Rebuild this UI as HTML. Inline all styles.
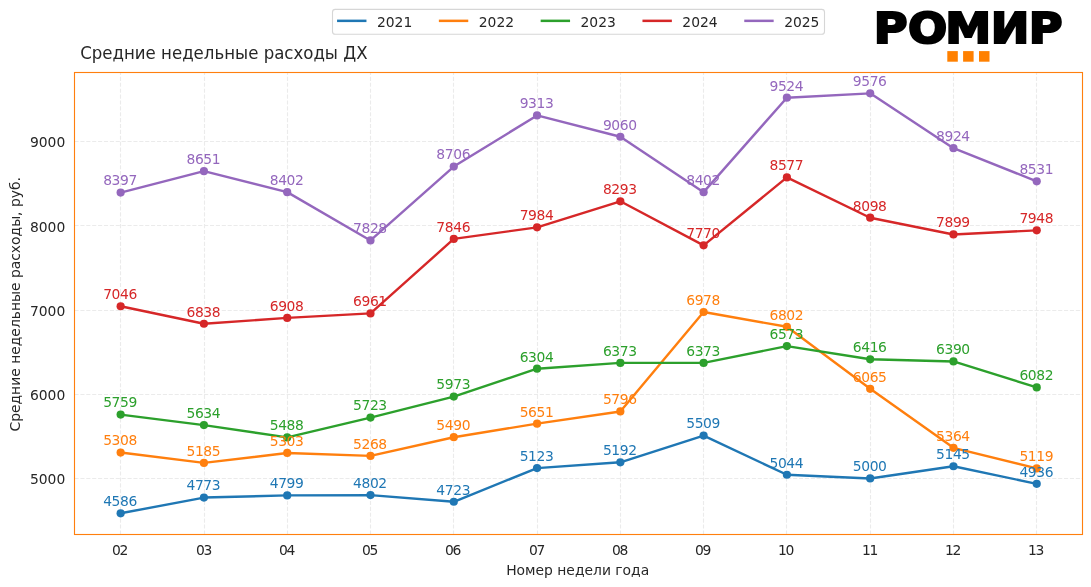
<!DOCTYPE html>
<html lang="ru"><head><meta charset="utf-8"><title>Средние недельные расходы ДХ</title>
<style>html,body{margin:0;padding:0;background:#fff;}body{width:1091px;height:587px;overflow:hidden;}svg{display:block;}text{font-family:"DejaVu Sans","Liberation Sans",sans-serif;}</style></head><body>
<svg width="1091" height="587" viewBox="0 0 1091 587">
<rect width="1091" height="587" fill="#ffffff"/>
<g stroke="#ebebeb" stroke-width="1.11" stroke-dasharray="4.11 1.78" fill="none">
<path d="M120.50 534.50V72.50"/>
<path d="M204.50 534.50V72.50"/>
<path d="M287.50 534.50V72.50"/>
<path d="M370.50 534.50V72.50"/>
<path d="M453.50 534.50V72.50"/>
<path d="M537.50 534.50V72.50"/>
<path d="M620.50 534.50V72.50"/>
<path d="M703.50 534.50V72.50"/>
<path d="M786.50 534.50V72.50"/>
<path d="M870.50 534.50V72.50"/>
<path d="M953.50 534.50V72.50"/>
<path d="M1036.50 534.50V72.50"/>
<path d="M74.50 478.50H1082.50"/>
<path d="M74.50 394.50H1082.50"/>
<path d="M74.50 310.50H1082.50"/>
<path d="M74.50 225.50H1082.50"/>
<path d="M74.50 141.50H1082.50"/>
</g>
<g fill="#1f77b4" stroke="#1f77b4"><polyline points="120.65,513.30 203.93,497.57 287.21,495.38 370.49,495.12 453.77,501.77 537.05,468.11 620.33,462.30 703.61,435.62 786.89,474.76 870.17,478.46 953.45,466.26 1036.73,483.85" fill="none" stroke-width="2.4" stroke-linejoin="round" stroke-linecap="butt"/>
<circle cx="120.65" cy="513.30" r="4.1" stroke="none"/>
<circle cx="203.93" cy="497.57" r="4.1" stroke="none"/>
<circle cx="287.21" cy="495.38" r="4.1" stroke="none"/>
<circle cx="370.49" cy="495.12" r="4.1" stroke="none"/>
<circle cx="453.77" cy="501.77" r="4.1" stroke="none"/>
<circle cx="537.05" cy="468.11" r="4.1" stroke="none"/>
<circle cx="620.33" cy="462.30" r="4.1" stroke="none"/>
<circle cx="703.61" cy="435.62" r="4.1" stroke="none"/>
<circle cx="786.89" cy="474.76" r="4.1" stroke="none"/>
<circle cx="870.17" cy="478.46" r="4.1" stroke="none"/>
<circle cx="953.45" cy="466.26" r="4.1" stroke="none"/>
<circle cx="1036.73" cy="483.85" r="4.1" stroke="none"/>
</g>
<g fill="#ff7f0e" stroke="#ff7f0e"><polyline points="120.65,452.54 203.93,462.89 287.21,452.96 370.49,455.90 453.77,437.22 537.05,423.67 620.33,411.47 703.61,311.99 786.89,326.80 870.17,388.83 953.45,447.82 1036.73,468.44" fill="none" stroke-width="2.4" stroke-linejoin="round" stroke-linecap="butt"/>
<circle cx="120.65" cy="452.54" r="4.1" stroke="none"/>
<circle cx="203.93" cy="462.89" r="4.1" stroke="none"/>
<circle cx="287.21" cy="452.96" r="4.1" stroke="none"/>
<circle cx="370.49" cy="455.90" r="4.1" stroke="none"/>
<circle cx="453.77" cy="437.22" r="4.1" stroke="none"/>
<circle cx="537.05" cy="423.67" r="4.1" stroke="none"/>
<circle cx="620.33" cy="411.47" r="4.1" stroke="none"/>
<circle cx="703.61" cy="311.99" r="4.1" stroke="none"/>
<circle cx="786.89" cy="326.80" r="4.1" stroke="none"/>
<circle cx="870.17" cy="388.83" r="4.1" stroke="none"/>
<circle cx="953.45" cy="447.82" r="4.1" stroke="none"/>
<circle cx="1036.73" cy="468.44" r="4.1" stroke="none"/>
</g>
<g fill="#2ca02c" stroke="#2ca02c"><polyline points="120.65,414.58 203.93,425.10 287.21,437.39 370.49,417.61 453.77,396.57 537.05,368.71 620.33,362.90 703.61,362.90 786.89,346.07 870.17,359.29 953.45,361.47 1036.73,387.40" fill="none" stroke-width="2.4" stroke-linejoin="round" stroke-linecap="butt"/>
<circle cx="120.65" cy="414.58" r="4.1" stroke="none"/>
<circle cx="203.93" cy="425.10" r="4.1" stroke="none"/>
<circle cx="287.21" cy="437.39" r="4.1" stroke="none"/>
<circle cx="370.49" cy="417.61" r="4.1" stroke="none"/>
<circle cx="453.77" cy="396.57" r="4.1" stroke="none"/>
<circle cx="537.05" cy="368.71" r="4.1" stroke="none"/>
<circle cx="620.33" cy="362.90" r="4.1" stroke="none"/>
<circle cx="703.61" cy="362.90" r="4.1" stroke="none"/>
<circle cx="786.89" cy="346.07" r="4.1" stroke="none"/>
<circle cx="870.17" cy="359.29" r="4.1" stroke="none"/>
<circle cx="953.45" cy="361.47" r="4.1" stroke="none"/>
<circle cx="1036.73" cy="387.40" r="4.1" stroke="none"/>
</g>
<g fill="#d62728" stroke="#d62728"><polyline points="120.65,306.26 203.93,323.77 287.21,317.88 370.49,313.42 453.77,238.93 537.05,227.32 620.33,201.31 703.61,245.33 786.89,177.41 870.17,217.72 953.45,234.47 1036.73,230.35" fill="none" stroke-width="2.4" stroke-linejoin="round" stroke-linecap="butt"/>
<circle cx="120.65" cy="306.26" r="4.1" stroke="none"/>
<circle cx="203.93" cy="323.77" r="4.1" stroke="none"/>
<circle cx="287.21" cy="317.88" r="4.1" stroke="none"/>
<circle cx="370.49" cy="313.42" r="4.1" stroke="none"/>
<circle cx="453.77" cy="238.93" r="4.1" stroke="none"/>
<circle cx="537.05" cy="227.32" r="4.1" stroke="none"/>
<circle cx="620.33" cy="201.31" r="4.1" stroke="none"/>
<circle cx="703.61" cy="245.33" r="4.1" stroke="none"/>
<circle cx="786.89" cy="177.41" r="4.1" stroke="none"/>
<circle cx="870.17" cy="217.72" r="4.1" stroke="none"/>
<circle cx="953.45" cy="234.47" r="4.1" stroke="none"/>
<circle cx="1036.73" cy="230.35" r="4.1" stroke="none"/>
</g>
<g fill="#9467bd" stroke="#9467bd"><polyline points="120.65,192.56 203.93,171.18 287.21,192.14 370.49,240.45 453.77,166.55 537.05,115.46 620.33,136.76 703.61,192.14 786.89,97.71 870.17,93.33 953.45,148.20 1036.73,181.28" fill="none" stroke-width="2.4" stroke-linejoin="round" stroke-linecap="butt"/>
<circle cx="120.65" cy="192.56" r="4.1" stroke="none"/>
<circle cx="203.93" cy="171.18" r="4.1" stroke="none"/>
<circle cx="287.21" cy="192.14" r="4.1" stroke="none"/>
<circle cx="370.49" cy="240.45" r="4.1" stroke="none"/>
<circle cx="453.77" cy="166.55" r="4.1" stroke="none"/>
<circle cx="537.05" cy="115.46" r="4.1" stroke="none"/>
<circle cx="620.33" cy="136.76" r="4.1" stroke="none"/>
<circle cx="703.61" cy="192.14" r="4.1" stroke="none"/>
<circle cx="786.89" cy="97.71" r="4.1" stroke="none"/>
<circle cx="870.17" cy="93.33" r="4.1" stroke="none"/>
<circle cx="953.45" cy="148.20" r="4.1" stroke="none"/>
<circle cx="1036.73" cy="181.28" r="4.1" stroke="none"/>
</g>
<rect x="74.50" y="72.50" width="1008.00" height="462.00" fill="none" stroke="#ff7f0e" stroke-width="1.11"/>
<g fill="#1f77b4" font-size="13.89" text-anchor="middle" letter-spacing="-0.4">
<text x="120.05" y="505.50">4586</text>
<text x="203.34" y="489.50">4773</text>
<text x="286.63" y="487.50">4799</text>
<text x="369.92" y="487.50">4802</text>
<text x="453.21" y="494.50">4723</text>
<text x="536.50" y="460.50">5123</text>
<text x="619.79" y="454.50">5192</text>
<text x="703.08" y="427.50">5509</text>
<text x="786.37" y="467.50">5044</text>
<text x="869.66" y="470.50">5000</text>
<text x="952.95" y="458.50">5145</text>
<text x="1036.24" y="476.50">4936</text>
</g>
<g fill="#ff7f0e" font-size="13.89" text-anchor="middle" letter-spacing="-0.4">
<text x="120.05" y="444.50">5308</text>
<text x="203.34" y="455.50">5185</text>
<text x="286.63" y="445.50">5303</text>
<text x="369.92" y="448.50">5268</text>
<text x="453.21" y="429.50">5490</text>
<text x="536.50" y="416.50">5651</text>
<text x="619.79" y="403.50">5796</text>
<text x="703.08" y="304.50">6978</text>
<text x="786.37" y="319.50">6802</text>
<text x="869.66" y="381.50">6065</text>
<text x="952.95" y="440.50">5364</text>
<text x="1036.24" y="460.50">5119</text>
</g>
<g fill="#2ca02c" font-size="13.89" text-anchor="middle" letter-spacing="-0.4">
<text x="120.05" y="406.50">5759</text>
<text x="203.34" y="417.50">5634</text>
<text x="286.63" y="429.50">5488</text>
<text x="369.92" y="409.50">5723</text>
<text x="453.21" y="388.50">5973</text>
<text x="536.50" y="361.50">6304</text>
<text x="619.79" y="355.50">6373</text>
<text x="703.08" y="355.50">6373</text>
<text x="786.37" y="338.50">6573</text>
<text x="869.66" y="351.50">6416</text>
<text x="952.95" y="353.50">6390</text>
<text x="1036.24" y="379.50">6082</text>
</g>
<g fill="#d62728" font-size="13.89" text-anchor="middle" letter-spacing="-0.4">
<text x="120.05" y="298.50">7046</text>
<text x="203.34" y="316.50">6838</text>
<text x="286.63" y="310.50">6908</text>
<text x="369.92" y="305.50">6961</text>
<text x="453.21" y="231.50">7846</text>
<text x="536.50" y="219.50">7984</text>
<text x="619.79" y="193.50">8293</text>
<text x="703.08" y="237.50">7770</text>
<text x="786.37" y="169.50">8577</text>
<text x="869.66" y="210.50">8098</text>
<text x="952.95" y="226.50">7899</text>
<text x="1036.24" y="222.50">7948</text>
</g>
<g fill="#9467bd" font-size="13.89" text-anchor="middle" letter-spacing="-0.4">
<text x="120.05" y="184.50">8397</text>
<text x="203.34" y="163.50">8651</text>
<text x="286.63" y="184.50">8402</text>
<text x="369.92" y="232.50">7828</text>
<text x="453.21" y="158.50">8706</text>
<text x="536.50" y="107.50">9313</text>
<text x="619.79" y="129.50">9060</text>
<text x="703.08" y="184.50">8402</text>
<text x="786.37" y="90.50">9524</text>
<text x="869.66" y="85.50">9576</text>
<text x="952.95" y="140.50">8924</text>
<text x="1036.24" y="173.50">8531</text>
</g>
<g fill="#262626" font-size="13.89" text-anchor="middle" letter-spacing="-1.4">
<text x="119.50" y="554.7">02</text>
<text x="203.50" y="554.7">03</text>
<text x="286.50" y="554.7">04</text>
<text x="369.50" y="554.7">05</text>
<text x="452.50" y="554.7">06</text>
<text x="536.50" y="554.7">07</text>
<text x="619.50" y="554.7">08</text>
<text x="702.50" y="554.7">09</text>
<text x="785.50" y="554.7">10</text>
<text x="869.50" y="554.7">11</text>
<text x="952.50" y="554.7">12</text>
<text x="1035.50" y="554.7">13</text>
</g>
<g fill="#262626" font-size="13.89" text-anchor="end">
<text x="65.25" y="483.5">5000</text>
<text x="65.25" y="399.5">6000</text>
<text x="65.25" y="315.5">7000</text>
<text x="65.25" y="231.5">8000</text>
<text x="65.25" y="146.5">9000</text>
</g>
<text x="577.7" y="574.9" fill="#262626" font-size="13.89" text-anchor="middle">Номер недели года</text>
<text transform="translate(19.6 304.3) rotate(-90)" fill="#262626" font-size="13.89" text-anchor="middle">Средние недельные расходы, руб.</text>
<text x="80.2" y="59.05" fill="#262626" font-family="'DejaVu Sans Condensed','DejaVu Sans',sans-serif" font-stretch="condensed" font-size="18.45">Средние недельные расходы ДХ</text>
<rect x="332.5" y="9.4" width="492.00" height="24.80" rx="2.8" ry="2.8" fill="#ffffff" fill-opacity="0.8" stroke="#cccccc" stroke-opacity="0.8" stroke-width="1.11"/>
<path d="M337.06 20.85H366.46" stroke="#1f77b4" stroke-width="2.5" fill="none"/>
<text x="376.95" y="27.1" fill="#262626" font-size="13.89">2021</text>
<path d="M438.86 20.85H468.26" stroke="#ff7f0e" stroke-width="2.5" fill="none"/>
<text x="478.75" y="27.1" fill="#262626" font-size="13.89">2022</text>
<path d="M540.66 20.85H570.06" stroke="#2ca02c" stroke-width="2.5" fill="none"/>
<text x="580.55" y="27.1" fill="#262626" font-size="13.89">2023</text>
<path d="M642.46 20.85H671.86" stroke="#d62728" stroke-width="2.5" fill="none"/>
<text x="682.35" y="27.1" fill="#262626" font-size="13.89">2024</text>
<path d="M744.26 20.85H773.66" stroke="#9467bd" stroke-width="2.5" fill="none"/>
<text x="784.15" y="27.1" fill="#262626" font-size="13.89">2025</text>
<text transform="translate(0 43.4) scale(1.09 1)" x="801.51 833.12 867.11 908.90 943.72" y="0" font-family="'DejaVu Sans','Liberation Sans',sans-serif" font-weight="bold" font-size="42.35" fill="#000" stroke="#000" stroke-width="2.13" stroke-linejoin="miter">РОМИР</text>
<rect x="947.3" y="51.1" width="10.5" height="10.6" fill="#ff8000"/>
<rect x="963.1" y="51.1" width="10.5" height="10.6" fill="#ff8000"/>
<rect x="979.0" y="51.1" width="10.5" height="10.6" fill="#ff8000"/>
</svg></body></html>
